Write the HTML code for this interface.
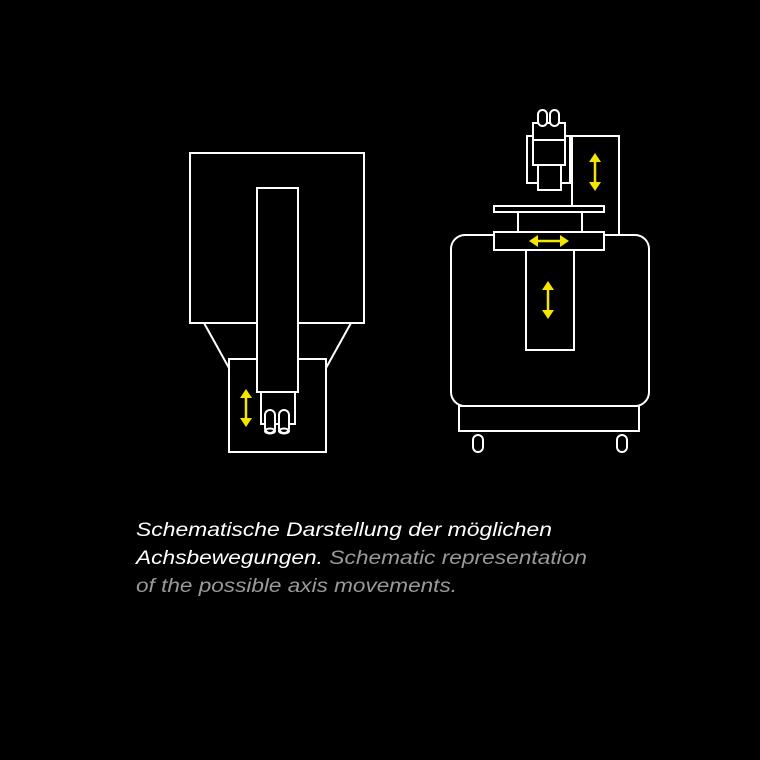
<!DOCTYPE html>
<html><head><meta charset="utf-8"><style>
html,body{margin:0;padding:0;background:#000;}
svg{display:block;}
</style></head><body>
<svg width="760" height="760" viewBox="0 0 760 760" xmlns="http://www.w3.org/2000/svg">
<rect width="760" height="760" fill="#000"/>
<g fill="none" stroke="#fff" stroke-width="2">
  <!-- left machine -->
  <rect x="190" y="153" width="174" height="170"/>
  <line x1="204" y1="323" x2="229" y2="368"/>
  <line x1="351" y1="323" x2="326" y2="368"/>
  <rect x="229" y="359" width="97" height="93"/>
  <rect x="261" y="392" width="34" height="32" fill="#000"/>
  <rect x="257" y="188" width="41" height="204" fill="#000"/>
  <rect x="265" y="410" width="10" height="23" rx="5" fill="#000"/>
  <rect x="279" y="410" width="10" height="23" rx="5" fill="#000"/>
  <ellipse cx="270" cy="431" rx="5" ry="2.5"/>
  <ellipse cx="284" cy="431" rx="5" ry="2.5"/>

  <!-- right machine -->
  <polyline points="572,206 572,136 619,136 619,236"/>
  <rect x="451" y="235" width="198" height="171" rx="14" fill="#000"/>
  <rect x="459" y="406" width="180" height="25"/>
  <rect x="473" y="435" width="10" height="17" rx="5"/>
  <rect x="617" y="435" width="10" height="17" rx="5"/>
  <rect x="494" y="206" width="110" height="6"/>
  <line x1="518" y1="212" x2="518" y2="232"/>
  <line x1="582" y1="212" x2="582" y2="232"/>
  <rect x="494" y="232" width="110" height="18" fill="#000"/>
  <rect x="526" y="250" width="48" height="100"/>
  <rect x="527" y="136" width="43" height="47"/>
  <rect x="533" y="140" width="32" height="25"/>
  <rect x="538" y="165" width="23" height="25" fill="#000"/>
  <rect x="533" y="123" width="32" height="17" fill="#000"/>
  <rect x="538" y="110" width="9" height="16" rx="4.5" fill="#000"/>
  <rect x="550" y="110" width="9" height="16" rx="4.5" fill="#000"/>
</g>
<g stroke="#f5e600" stroke-width="2.5">
  <line x1="246" y1="395" x2="246" y2="421"/>
  <line x1="595" y1="159" x2="595" y2="185"/>
  <line x1="535" y1="241" x2="563" y2="241"/>
  <line x1="548" y1="287" x2="548" y2="313"/>
</g>
<g fill="#f5e600">
  <polygon points="246,389 240,398 252,398"/>
  <polygon points="246,427 240,418 252,418"/>
  <polygon points="595,153 589,162 601,162"/>
  <polygon points="595,191 589,182 601,182"/>
  <polygon points="529,241 538,235 538,247"/>
  <polygon points="569,241 560,235 560,247"/>
  <polygon points="548,281 542,290 554,290"/>
  <polygon points="548,319 542,310 554,310"/>
</g>
<g font-family="Liberation Sans, sans-serif" font-style="italic" font-size="19">
  <text x="136" y="536" fill="#fff" textLength="416" lengthAdjust="spacingAndGlyphs">Schematische Darstellung der möglichen</text>
  <text x="136" y="564" textLength="451" lengthAdjust="spacingAndGlyphs"><tspan fill="#fff">Achsbewegungen.</tspan><tspan fill="#9a9a9a"> Schematic representation</tspan></text>
  <text x="136" y="592" fill="#9a9a9a" textLength="321" lengthAdjust="spacingAndGlyphs">of the possible axis movements.</text>
</g>
</svg>
</body></html>
